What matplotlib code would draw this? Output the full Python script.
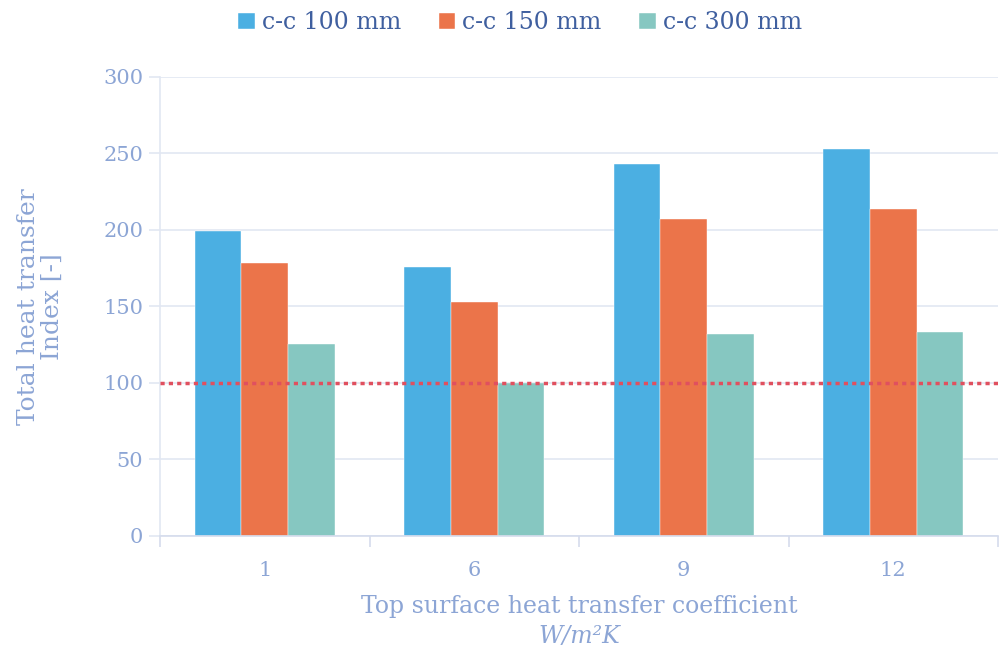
import matplotlib
matplotlib.use('Agg')
import matplotlib.pyplot as plt
import numpy as np

# Datos
categorias = ['1', '6', '9', '12']
series = ['c-c 100 mm', 'c-c 150 mm', 'c-c 300 mm']
cc_100 = [199, 176, 243, 253]
cc_150 = [178, 152.5, 207, 213.5]
cc_300 = [125.5, 100, 132, 133.5]
referencia = 100
y_ticks = [0, 50, 100, 150, 200, 250, 300]

colores = ['#4BAFE2', '#EB744A', '#86C7C1']
color_texto = '#8CA5D5'
color_leyenda = '#3F5F9F'
color_rejilla = '#E2E7F2'

plt.rcParams['font.family'] = ['DejaVu Serif']

fig = plt.figure(figsize=(10, 6.51), dpi=100)
ax = fig.add_axes([0.16, 0.177, 0.838, 0.705])

x = np.arange(len(categorias))
ancho = 0.222
for i, (vals, nombre) in enumerate(zip([cc_100, cc_150, cc_300], series)):
    ax.bar(x + (i - 1) * ancho, vals, width=ancho, color=colores[i],
           label=nombre, zorder=2, edgecolor='white', linewidth=0.3)

# Linea de referencia
ax.axhline(referencia, color='#E0505F', linestyle=(0, (1.2, 1.2)), linewidth=2.5, zorder=3)

ax.set_xlim(-0.5, len(categorias) - 0.5)
ax.set_ylim(0, 300)
ax.set_yticks(y_ticks)
ax.set_xticks(x)
ax.set_xticklabels(categorias)
ax.set_xticks(np.arange(-0.5, len(categorias)), minor=True)

ax.grid(axis='y', color=color_rejilla, linewidth=1.2, zorder=0)
for lado in ['top', 'right']:
    ax.spines[lado].set_visible(False)
ax.spines['left'].set_color(color_rejilla)
ax.spines['left'].set_linewidth(1.2)
ax.spines['bottom'].set_color('#D5DCEC')
ax.spines['bottom'].set_linewidth(1.2)

ax.tick_params(axis='x', which='major', length=0, pad=18, labelsize=15, labelcolor=color_texto)
ax.tick_params(axis='x', which='minor', length=8, color='#D5DCEC', width=1.2)
ax.tick_params(axis='y', length=8, color=color_rejilla, width=1.2, labelsize=15,
               labelcolor=color_texto, pad=4)

ax.set_ylabel('Total heat transfer\nIndex [-]', fontsize=18, color=color_texto,
              linespacing=1.05, labelpad=28)
ax.text(0.5, -0.155, 'Top surface heat transfer coefficient', transform=ax.transAxes,
        ha='center', va='center', fontsize=17, color=color_texto)
ax.text(0.5, -0.22, 'W/m²K', transform=ax.transAxes, ha='center', va='center',
        fontsize=17, color=color_texto, style='italic')

fig.legend(loc='center', bbox_to_anchor=(0.52, 0.965), ncol=3, frameon=False,
           fontsize=17, labelcolor=color_leyenda, handlelength=0.7, handleheight=0.7,
           handletextpad=0.3, columnspacing=1.6)

plt.savefig('out.png', dpi=100)
